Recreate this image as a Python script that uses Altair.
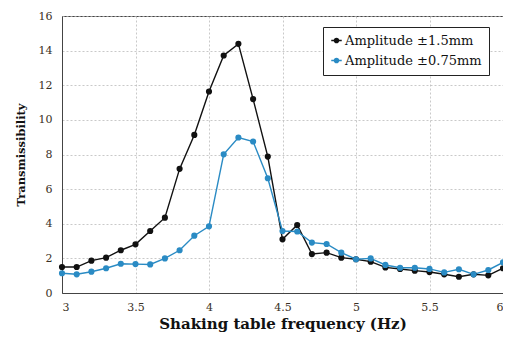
import altair as alt
import pandas as pd

freq = [round(3.0 + 0.1 * i, 1) for i in range(31)]
amp_15 = [1.5, 1.5, 1.87, 2.04, 2.47, 2.81, 3.58, 4.35, 7.17, 9.13, 11.64, 13.72, 14.39, 11.2, 7.88,
          3.1, 3.93, 2.25, 2.33, 2.04, 1.95, 1.81, 1.48, 1.39, 1.29, 1.21, 1.08, 0.94, 1.08, 1.02, 1.43]
amp_075 = [1.14, 1.08, 1.23, 1.43, 1.69, 1.67, 1.65, 2.0, 2.47, 3.31, 3.85, 8.01, 8.98, 8.75, 6.63,
           3.58, 3.55, 2.91, 2.83, 2.33, 1.95, 2.0, 1.62, 1.46, 1.46, 1.39, 1.19, 1.37, 1.08, 1.33, 1.77]
series_names = ["Amplitude \u00b11.5mm", "Amplitude \u00b10.75mm"]
series_colors = ["#111111", "#2a8bc4"]

rows = []
for f, a, b in zip(freq, amp_15, amp_075):
    rows.append({"freq": f, "value": a, "series": series_names[0]})
    rows.append({"freq": f, "value": b, "series": series_names[1]})
df = pd.DataFrame(rows)

FONT = "DejaVu Serif"
sym = "M-1,0L1,0M-0.4,0A0.4,0.4,0,1,1,0.4,0A0.4,0.4,0,1,1,-0.4,0Z"

color = alt.Color(
    "series:N",
    scale=alt.Scale(domain=series_names, range=series_colors),
    legend=alt.Legend(
        title=None, orient="none", legendX=261, legendY=11,
        strokeColor="#222", fillColor="white", padding=7,
        labelFont=FONT, labelFontSize=13, labelColor="#111",
        symbolType=sym, symbolSize=110, symbolStrokeWidth=1.5,
        rowPadding=6, labelOffset=2,
    ),
)

x = alt.X("freq:Q", scale=alt.Scale(domain=[3, 6], nice=False),
          axis=alt.Axis(values=[3, 3.5, 4, 4.5, 5, 5.5, 6], format="~g",
                        title="Shaking table frequency (Hz)"))
y = alt.Y("value:Q", scale=alt.Scale(domain=[0, 16], nice=False),
          axis=alt.Axis(values=list(range(0, 17, 2)), title="Transmissibility"))

base = alt.Chart(df).encode(x=x, y=y, color=color,
                            order=alt.Order("freq:Q"))
lines = base.mark_line(strokeWidth=1.4)
points = base.mark_circle(size=38, opacity=1)

chart = (lines + points).properties(
    width=441, height=277,
    autosize=alt.AutoSizeParams(type="none"),
    padding={"left": 54, "top": 8, "right": 0, "bottom": 45},
).configure(
    font=FONT
).configure_view(
    stroke="#444", strokeWidth=1
).configure_axis(
    labelFont=FONT, labelFontSize=11, labelColor="#3a3025",
    titleFont=FONT, titleFontWeight="bold", titleColor="#111",
    grid=True, gridColor="#bbb", gridDash=[2, 2], gridWidth=0.8,
    domainColor="#444", ticks=False,
).configure_axisX(
    labelPadding=8, titleFontSize=15, titlePadding=4,
).configure_axisY(
    labelPadding=10, titleFontSize=11.5, titlePadding=12,
)

chart.save("out.html", embed_options={"renderer": "svg", "actions": False})
